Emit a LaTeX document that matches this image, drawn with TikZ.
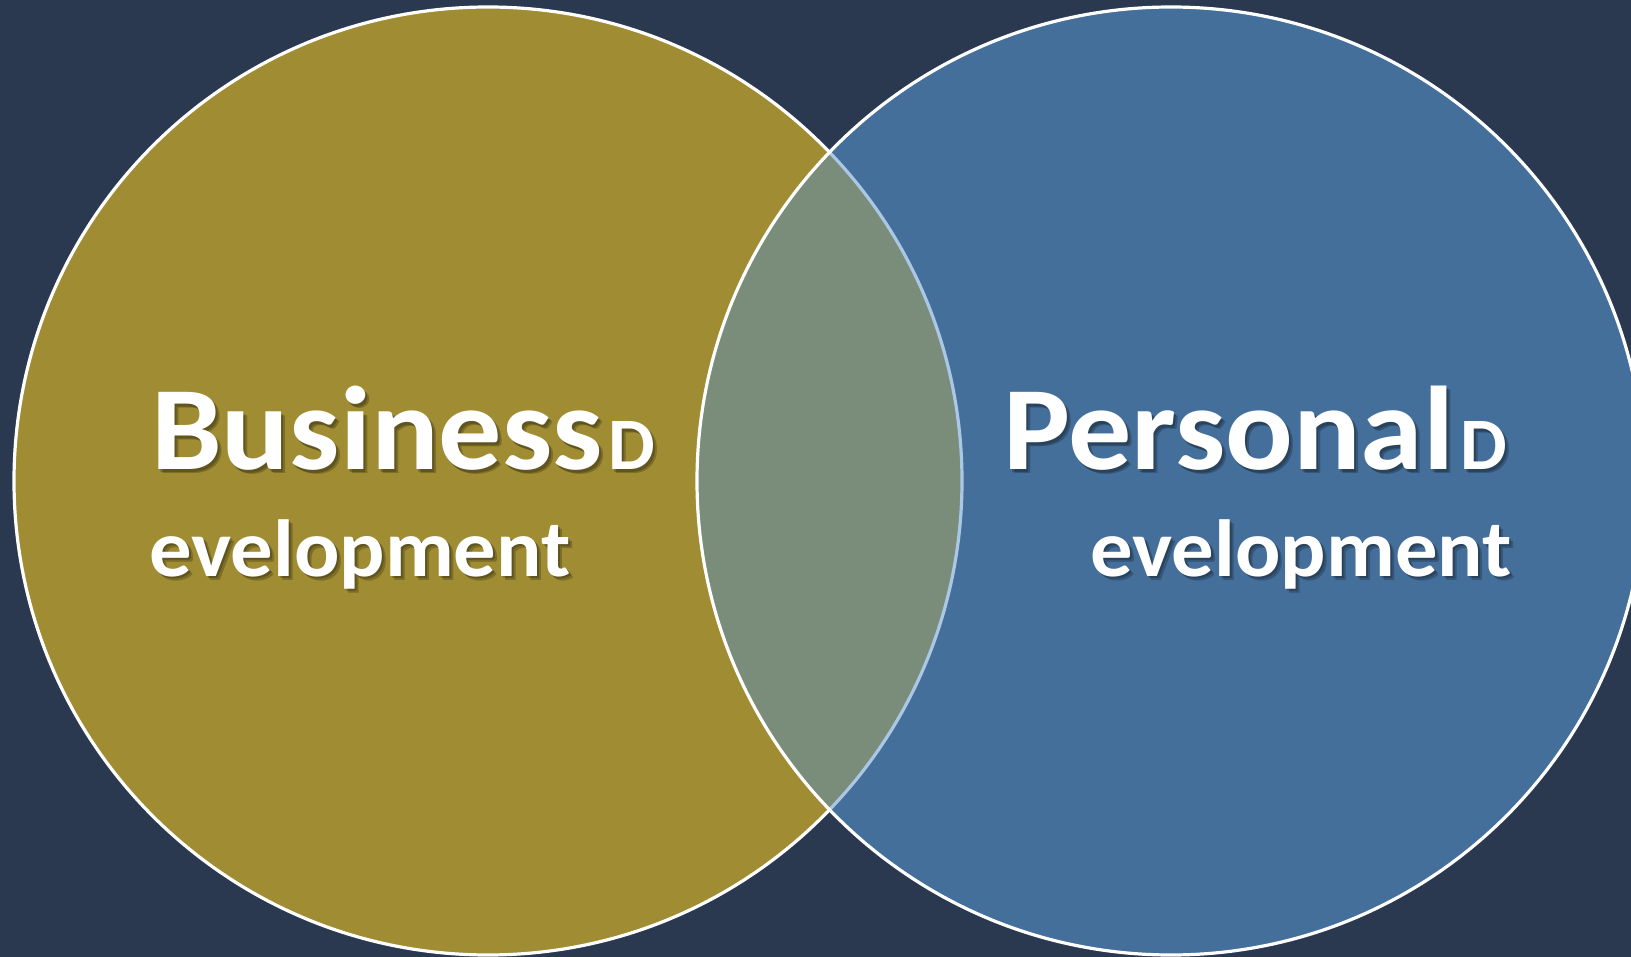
\documentclass[tikz,border=0pt]{standalone}
\usepackage{fontspec}
\newfontfamily\carl{Carlito}
\definecolor{bgnavy}{RGB}{42,56,80}
\definecolor{gold}{RGB}{160,140,50}
\definecolor{bluec}{RGB}{68,111,154}
\definecolor{mixc}{RGB}{122,140,122}
\definecolor{lblue}{RGB}{170,200,230}
\tikzset{
  lbl/.style={inner sep=0pt, text=white, font=\carl\bfseries},
  shd/.style={inner sep=0pt, text=black, opacity=0.22, font=\carl\bfseries},
  ring/.style={draw=white, line width=3.2pt}
}
\newcommand{\bigT}{\fontsize{119}{119}\selectfont}
\newcommand{\smT}{\fontsize{74}{74}\selectfont}
\newcommand{\midT}{\fontsize{81}{81}\selectfont}
\newcommand{\txtBus}{\scalebox{1.06}[1]{\bigT Business}\hspace{6pt}{\smT D}}
\newcommand{\txtPer}{\scalebox{1.06}[1]{\bigT Personal}\hspace{6pt}{\smT D}}
\newcommand{\txtDev}{\scalebox{1.045}[1]{\midT evelopment}}
\begin{document}
\begin{tikzpicture}[x=1pt,y=-1pt]
\useasboundingbox (0,0) rectangle (1631,957);
\fill[bgnavy] (0,0) rectangle (1631,957);
\coordinate (cl) at (488,481);
\coordinate (cr) at (1171,481);
\fill[gold] (cl) circle (474);
\fill[bluec] (cr) circle (474);
\begin{scope}
  \clip (cl) circle (474);
  \fill[mixc] (cr) circle (474);
\end{scope}
\begin{scope}
  \clip (cr) circle (474);
  \draw[lblue, line width=3.2pt] (cl) circle (474);
\end{scope}
\begin{scope}[even odd rule]
  \clip (0,0) rectangle (1631,957) (cr) circle (474);
  \draw[ring] (cl) circle (474);
\end{scope}
\draw[ring] (cr) circle (474);
% soft shadows
\foreach \dx/\dy [count=\i] in {2/2,4/4} {
  \node[shd, anchor=base west] (bs\i) at (151+\dx,470+\dy) {\txtBus};
  \node[shd, anchor=base west] (be\i) at (149+\dx,576+\dy) {\txtDev};
  \node[shd, anchor=base west] (ps\i) at (1003+\dx,470+\dy) {\txtPer};
  \node[shd, anchor=base east] (pe\i) at (1512+\dx,576+\dy) {\txtDev};
}
% texts
\node[lbl, anchor=base west] (b1) at (151,470) {\txtBus};
\node[lbl, anchor=base west] (b2) at (149,576) {\txtDev};
\node[lbl, anchor=base west] (p1) at (1003,470) {\txtPer};
\node[lbl, anchor=base east] (p2) at (1512,576) {\txtDev};
\end{tikzpicture}
\end{document}
